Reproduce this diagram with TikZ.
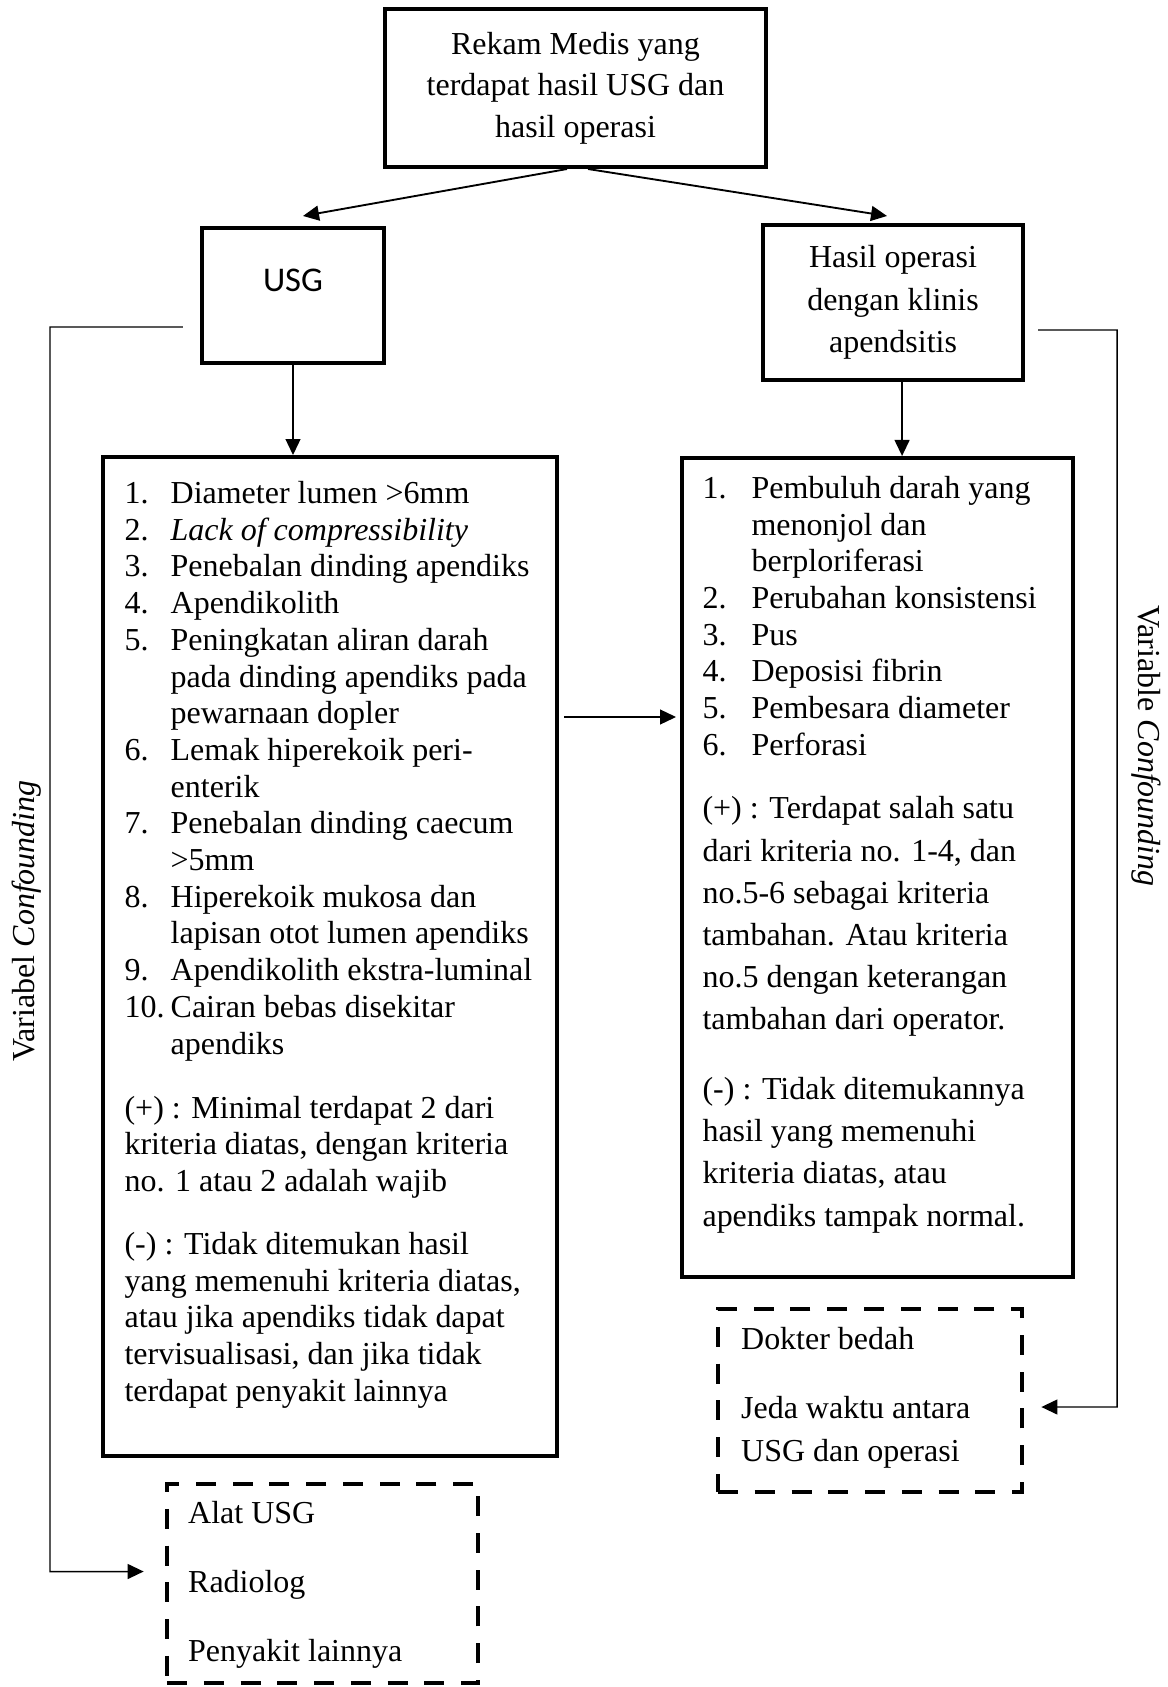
\documentclass[tikz,border=0pt]{standalone}
\usepackage{fontspec}
\setmainfont{Liberation Serif}
\newfontfamily\usgfont{Carlito}
\usetikzlibrary{arrows.meta,calc}

\begin{document}
\begin{tikzpicture}[x=0.3752pt, y=-0.3752pt,
    box/.style={draw, line width=1.5pt, inner sep=0pt},
    confbox/.style={draw, line width=1.75pt, dash pattern=on 7.5pt off 6.3pt, inner sep=0pt},
    arr/.style={-{Triangle[length=6pt,width=5.6pt]}, line width=0.55pt},
    txt/.style={anchor=base west, inner sep=0pt, font=\fontsize{12}{13.77}\selectfont}]
  \useasboundingbox (0,0) rectangle (1168,1687);

  % boxes
  \node[box, minimum width=142.95pt, minimum height=59.3pt, align=center,
        font=\fontsize{12}{15.6}\selectfont] (rekam) at (575.5,88)
        {Rekam Medis yang\\terdapat hasil USG dan\\hasil operasi};
  \node[box, minimum width=68.3pt, minimum height=50.65pt, text height=10pt, text depth=12.9pt,
        font=\usgfont\fontsize{13}{15.6}\selectfont] (usg) at (293,295.5) {USG};
  \node[box, minimum width=97.55pt, minimum height=58.16pt, align=center,
        font=\fontsize{12}{15.9}\selectfont] (operasi) at (893,302.5)
        {Hasil operasi\\dengan klinis\\apendsitis};
  \node[box, minimum width=170.3pt, minimum height=374.8pt] (kritusg) at (330,956.5) {};
  \node[box, minimum width=146.7pt, minimum height=307.3pt] (kritop) at (877.5,867.5) {};
  \node[confbox, minimum width=116.7pt, minimum height=74.7pt] (confusg) at (322.5,1583.5) {};
  \node[confbox, minimum width=114.1pt, minimum height=68.7pt] (confop) at (870,1400.5) {};

  % kriteria USG
  \node[txt] (usglist) at ([shift={(23,48.5)}]kritusg.north west) {%
    \begin{tabular}[t]{@{}p{17.3pt}@{}l@{}}
      1.  & Diameter lumen >6mm\\
      2.  & \textit{Lack of compressibility}\\
      3.  & Penebalan dinding apendiks\\
      4.  & Apendikolith\\
      5.  & Peningkatan aliran darah\\
          & pada dinding apendiks pada\\
          & pewarnaan dopler\\
      6.  & Lemak hiperekoik peri-\\
          & enterik\\
      7.  & Penebalan dinding caecum\\
          & >5mm\\
      8.  & Hiperekoik mukosa dan\\
          & lapisan otot lumen apendiks\\
      9.  & Apendikolith ekstra-luminal\\
      10. & Cairan bebas disekitar\\
          & apendiks
    \end{tabular}};
  \node[txt] (usgplus) at ([shift={(23,663)}]kritusg.north west) {%
    \begin{tabular}[t]{@{}l@{}}
      (+) : Minimal terdapat 2 dari\\
      kriteria diatas, dengan kriteria\\
      no. 1 atau 2 adalah wajib
    \end{tabular}};
  \node[txt] (usgminus) at ([shift={(23,799.5)}]kritusg.north west) {%
    \begin{tabular}[t]{@{}l@{}}
      (-) : Tidak ditemukan hasil\\
      yang memenuhi kriteria diatas,\\
      atau jika apendiks tidak dapat\\
      tervisualisasi, dan jika tidak\\
      terdapat penyakit lainnya
    \end{tabular}};

  % kriteria operasi
  \node[txt] (oplist) at ([shift={(22,42.4)}]kritop.north west) {%
    \begin{tabular}[t]{@{}p{18.4pt}@{}l@{}}
      1. & Pembuluh darah yang\\
         & menonjol dan\\
         & berploriferasi\\
      2. & Perubahan konsistensi\\
      3. & Pus\\
      4. & Deposisi fibrin\\
      5. & Pembesara diameter\\
      6. & Perforasi
    \end{tabular}};
  \node[txt, font=\fontsize{12}{15.83}\selectfont] (opplus) at ([shift={(22,363)}]kritop.north west) {%
    \begin{tabular}[t]{@{}l@{}}
      (+) : Terdapat salah satu\\
      dari kriteria no. 1-4, dan\\
      no.5-6 sebagai kriteria\\
      tambahan. Atau kriteria\\
      no.5 dengan keterangan\\
      tambahan dari operator.
    \end{tabular}};
  \node[txt, font=\fontsize{12}{15.83}\selectfont] (opminus) at ([shift={(22,643.6)}]kritop.north west) {%
    \begin{tabular}[t]{@{}l@{}}
      (-) : Tidak ditemukannya\\
      hasil yang memenuhi\\
      kriteria diatas, atau\\
      apendiks tampak normal.
    \end{tabular}};

  % confounding
  \node[txt, font=\fontsize{12}{25.9}\selectfont] (confusgtxt) at ([shift={(23,42)}]confusg.north west) {%
    \begin{tabular}[t]{@{}l@{}}
      Alat USG\\
      Radiolog\\
      Penyakit lainnya
    \end{tabular}};
  \node[txt, font=\fontsize{12}{16.13}\selectfont] (confoptxt) at ([shift={(25,43)}]confop.north west) {%
    \begin{tabular}[t]{@{}l@{}}
      Dokter bedah\\[9.6pt]
      Jeda waktu antara\\
      USG dan operasi
    \end{tabular}};
  \node[rotate=90, font=\fontsize{12}{14}\selectfont] (varl) at (27,921) {Variabel \textit{Confounding}};
  \node[rotate=-90, font=\fontsize{12}{14}\selectfont] (varr) at (1146,746) {Variable \textit{Confounding}};

  % connectors
  \draw[arr, line width=0.7pt] ([xshift=-3.2pt]rekam.south) -- ([shift={(10,-10)}]usg.north);
  \draw[arr, line width=0.7pt] ([xshift=4.7pt]rekam.south) -- ([shift={(-6,-7)}]operasi.north);
  \draw[arr] (usg.south) -- (usg.south |- kritusg.north);
  \coordinate (opdown) at ([xshift=3.4pt]operasi.south);
  \draw[arr] (opdown) -- (opdown |- kritop.north);
  \coordinate (mid) at (0,717);
  \draw[arr, shorten <=2pt, shorten >=1.5pt] (kritusg.east |- mid) -- (kritop.west |- mid);
  \coordinate (cl) at (50,327);
  \draw[arr] ([shift={(-17,31.5)}]usg.west) -- (cl) |- ([shift={(-21,-12)}]confusg.west);
  \coordinate (cr) at (1117,330);
  \draw[arr] ([shift={(13,27.5)}]operasi.east) -- (cr) |- ([shift={(17,6.5)}]confop.east);
\end{tikzpicture}
\end{document}
